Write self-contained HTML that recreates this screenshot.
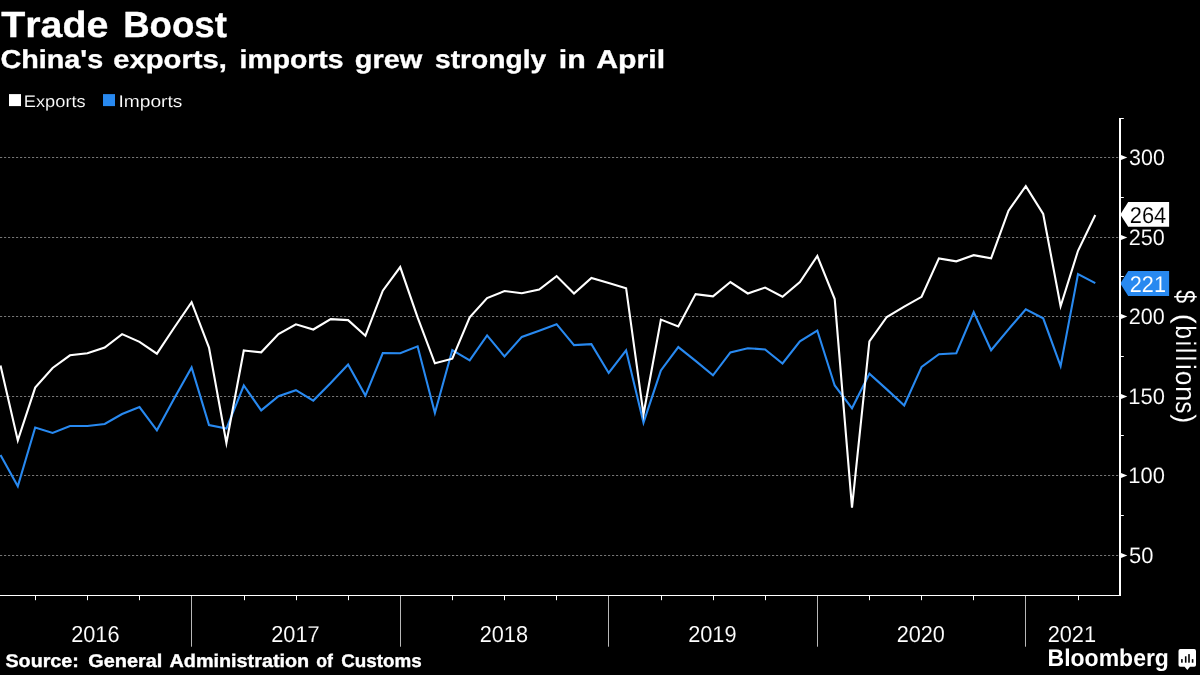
<!DOCTYPE html>
<html><head><meta charset="utf-8"><title>Trade Boost</title>
<style>
html,body{margin:0;padding:0;background:#000;}
body{width:1200px;height:675px;overflow:hidden;font-family:"Liberation Sans",sans-serif;}
svg{display:block;font-family:"Liberation Sans",sans-serif;font-kerning:none;text-rendering:geometricPrecision;}
</style></head><body>
<svg width="1200" height="675" viewBox="0 0 1200 675">
<rect width="1200" height="675" fill="#000"/>
<defs><filter id="idf" x="0" y="0" width="1200" height="675" filterUnits="userSpaceOnUse" color-interpolation-filters="sRGB"><feOffset dx="0" dy="0"/></filter></defs>
<g filter="url(#idf)">
<text x="1.16" y="36.6" font-size="36.3" font-weight="bold" stroke="#fff" stroke-width="0.35" fill="#fff" textLength="107.19" lengthAdjust="spacingAndGlyphs">Trade</text>
<text x="123.15" y="36.6" font-size="36.3" font-weight="bold" stroke="#fff" stroke-width="0.35" fill="#fff" textLength="103.70" lengthAdjust="spacingAndGlyphs">Boost</text>
<text x="0.42" y="67.9" font-size="25.8" font-weight="bold" stroke="#fff" stroke-width="0.35" fill="#fff" textLength="102.76" lengthAdjust="spacingAndGlyphs">China's</text>
<text x="113.26" y="67.9" font-size="25.8" font-weight="bold" stroke="#fff" stroke-width="0.35" fill="#fff" textLength="113.70" lengthAdjust="spacingAndGlyphs">exports,</text>
<text x="239.62" y="67.9" font-size="25.8" font-weight="bold" stroke="#fff" stroke-width="0.35" fill="#fff" textLength="103.94" lengthAdjust="spacingAndGlyphs">imports</text>
<text x="354.81" y="67.9" font-size="25.8" font-weight="bold" stroke="#fff" stroke-width="0.35" fill="#fff" textLength="67.53" lengthAdjust="spacingAndGlyphs">grew</text>
<text x="435.01" y="67.9" font-size="25.8" font-weight="bold" stroke="#fff" stroke-width="0.35" fill="#fff" textLength="111.14" lengthAdjust="spacingAndGlyphs">strongly</text>
<text x="558.88" y="67.9" font-size="25.8" font-weight="bold" stroke="#fff" stroke-width="0.35" fill="#fff" textLength="27.01" lengthAdjust="spacingAndGlyphs">in</text>
<text x="596.25" y="67.9" font-size="25.8" font-weight="bold" stroke="#fff" stroke-width="0.35" fill="#fff" textLength="68.89" lengthAdjust="spacingAndGlyphs">April</text>
<rect x="9" y="94.1" width="12" height="12" fill="#fff"/>
<text x="23.80" y="106.6" font-size="16.8" stroke="#000" stroke-width="0.1" fill="#fff" textLength="61.86" lengthAdjust="spacingAndGlyphs">Exports</text>
<text x="118.53" y="106.6" font-size="16.8" stroke="#000" stroke-width="0.1" fill="#fff" textLength="63.86" lengthAdjust="spacingAndGlyphs">Imports</text>
<rect x="103" y="94.1" width="12" height="12" fill="#2889f0"/>
<line x1="0" y1="157.5" x2="1119.0" y2="157.5" stroke="#747474" stroke-width="1" stroke-dasharray="2.2,1.8"/>
<line x1="0" y1="237.5" x2="1119.0" y2="237.5" stroke="#747474" stroke-width="1" stroke-dasharray="2.2,1.8"/>
<line x1="0" y1="316.5" x2="1119.0" y2="316.5" stroke="#747474" stroke-width="1" stroke-dasharray="2.2,1.8"/>
<line x1="0" y1="396.5" x2="1119.0" y2="396.5" stroke="#747474" stroke-width="1" stroke-dasharray="2.2,1.8"/>
<line x1="0" y1="475.5" x2="1119.0" y2="475.5" stroke="#747474" stroke-width="1" stroke-dasharray="2.2,1.8"/>
<line x1="0" y1="555.5" x2="1119.0" y2="555.5" stroke="#747474" stroke-width="1" stroke-dasharray="2.2,1.8"/>
<path d="M0.5,455.0 L17.8,486.2 L35.2,427.5 L52.6,432.9 L70.0,426.0 L87.4,426.0 L104.7,424.0 L122.1,414.0 L139.5,407.1 L156.9,430.3 L174.3,398.2 L191.6,367.4 L209.0,425.0 L226.4,428.6 L243.8,385.5 L261.2,410.4 L278.5,396.3 L295.9,390.2 L313.3,400.6 L330.7,383.0 L348.1,364.6 L365.4,395.6 L382.8,353.0 L400.2,353.2 L417.6,346.3 L434.9,413.0 L452.3,350.0 L469.7,360.4 L487.1,335.4 L504.5,356.5 L521.8,336.9 L539.2,330.7 L556.6,324.2 L574.0,345.1 L591.4,344.2 L608.7,373.0 L626.1,350.3 L643.5,422.7 L660.9,370.4 L678.3,347.1 L695.6,360.9 L713.0,375.3 L730.4,352.4 L747.8,348.2 L765.1,349.5 L782.5,363.5 L799.9,341.4 L817.3,330.5 L834.7,385.5 L852.0,408.3 L869.4,373.8 L886.8,389.4 L904.2,405.5 L921.6,366.9 L938.9,354.2 L956.3,353.2 L973.7,312.1 L991.1,350.2 L1008.5,329.4 L1025.8,309.2 L1043.2,318.3 L1060.6,366.1 L1078.0,274.1 L1095.3,283.1" fill="none" stroke="#2889f0" stroke-width="2.1" stroke-linejoin="miter" stroke-miterlimit="8"/>
<path d="M0.5,365.4 L17.8,440.4 L35.2,387.6 L52.6,368.0 L70.0,355.3 L87.4,353.3 L104.7,347.5 L122.1,334.1 L139.5,341.9 L156.9,353.7 L174.3,327.5 L191.6,302.2 L209.0,347.5 L226.4,443.0 L243.8,350.5 L261.2,352.3 L278.5,334.1 L295.9,324.3 L313.3,329.5 L330.7,319.1 L348.1,320.1 L365.4,335.7 L382.8,290.7 L400.2,267.1 L417.6,317.4 L434.9,363.3 L452.3,358.7 L469.7,317.4 L487.1,298.1 L504.5,291.0 L521.8,293.2 L539.2,289.6 L556.6,276.1 L574.0,293.6 L591.4,278.0 L608.7,283.0 L626.1,288.2 L643.5,414.3 L660.9,319.6 L678.3,326.4 L695.6,294.1 L713.0,296.4 L730.4,282.0 L747.8,293.5 L765.1,287.6 L782.5,296.7 L799.9,282.0 L817.3,256.0 L834.7,299.1 L852.0,507.6 L869.4,341.5 L886.8,317.0 L904.2,306.6 L921.6,296.8 L938.9,258.4 L956.3,261.3 L973.7,255.2 L991.1,258.4 L1008.5,210.7 L1025.8,186.2 L1043.2,214.0 L1060.6,306.2 L1078.0,250.8 L1095.3,215.0" fill="none" stroke="#fff" stroke-width="2.1" stroke-linejoin="miter" stroke-miterlimit="8"/>
<rect x="0" y="595" width="1121.0" height="1" fill="#fff"/>
<path d="M1121.0,154.9 L1127.3,157.5 L1121.0,160.1 Z" fill="#fff"/>
<text x="1129.08" y="165.2" font-size="22.4" stroke="#000" stroke-width="0.1" fill="#fff" textLength="35.75" lengthAdjust="spacingAndGlyphs">300</text>
<path d="M1121.0,234.9 L1127.3,237.5 L1121.0,240.1 Z" fill="#fff"/>
<text x="1128.81" y="245.2" font-size="22.4" stroke="#000" stroke-width="0.1" fill="#fff" textLength="36.03" lengthAdjust="spacingAndGlyphs">250</text>
<path d="M1121.0,313.9 L1127.3,316.5 L1121.0,319.1 Z" fill="#fff"/>
<text x="1128.81" y="324.2" font-size="22.4" stroke="#000" stroke-width="0.1" fill="#fff" textLength="36.03" lengthAdjust="spacingAndGlyphs">200</text>
<path d="M1121.0,393.9 L1127.3,396.5 L1121.0,399.1 Z" fill="#fff"/>
<text x="1128.23" y="404.2" font-size="22.4" stroke="#000" stroke-width="0.1" fill="#fff" textLength="36.63" lengthAdjust="spacingAndGlyphs">150</text>
<path d="M1121.0,472.9 L1127.3,475.5 L1121.0,478.1 Z" fill="#fff"/>
<text x="1128.23" y="483.2" font-size="22.4" stroke="#000" stroke-width="0.1" fill="#fff" textLength="36.63" lengthAdjust="spacingAndGlyphs">100</text>
<path d="M1121.0,552.9 L1127.3,555.5 L1121.0,558.1 Z" fill="#fff"/>
<text x="1129.02" y="563.2" font-size="22.4" stroke="#000" stroke-width="0.1" fill="#fff" textLength="24.44" lengthAdjust="spacingAndGlyphs">50</text>
<rect x="1121.0" y="118.0" width="2.8" height="1" fill="#fff"/>
<rect x="1121.0" y="197.0" width="2.8" height="1" fill="#fff"/>
<rect x="1121.0" y="276.0" width="2.8" height="1" fill="#fff"/>
<rect x="1121.0" y="356.0" width="2.8" height="1" fill="#fff"/>
<rect x="1121.0" y="435.0" width="2.8" height="1" fill="#fff"/>
<rect x="1121.0" y="515.0" width="2.8" height="1" fill="#fff"/>
<path d="M1120.3,214.4 L1128.2,202.0 L1169.1,202.0 L1169.1,226.8 L1128.2,226.8 Z" fill="#fff"/>
<text x="1129.80" y="222.9" font-size="22.6" stroke="#fff" stroke-width="0.1" fill="#000" textLength="36.44" lengthAdjust="spacingAndGlyphs">264</text>
<path d="M1120.3,283.5 L1128.2,271.1 L1169.1,271.1 L1169.1,295.9 L1128.2,295.9 Z" fill="#2889f0"/>
<text x="1129.81" y="292.0" font-size="22.6" stroke="#2889f0" stroke-width="0.1" fill="#fff" textLength="36.15" lengthAdjust="spacingAndGlyphs">221</text>
<rect x="1119.0" y="118" width="2" height="478" fill="#fff"/>
<text transform="translate(1175.9,289.94) rotate(90) scale(0.850,1)" font-size="28.0" fill="#fff" stroke="#000" stroke-width="0.1">$</text>
<text transform="translate(1175.9,313.59) rotate(90) scale(1.100,1)" font-size="28.0" fill="#fff" stroke="#000" stroke-width="0.1">(</text>
<text transform="translate(1175.9,325.19) rotate(90) scale(0.889,1)" font-size="28.0" fill="#fff" stroke="#000" stroke-width="0.1">b</text>
<text transform="translate(1175.9,340.33) rotate(90) scale(1.000,1)" font-size="28.0" fill="#fff" stroke="#000" stroke-width="0.1">i</text>
<text transform="translate(1175.9,347.51) rotate(90) scale(1.000,1)" font-size="28.0" fill="#fff" stroke="#000" stroke-width="0.1">l</text>
<text transform="translate(1175.9,355.21) rotate(90) scale(1.000,1)" font-size="28.0" fill="#fff" stroke="#000" stroke-width="0.1">l</text>
<text transform="translate(1175.9,363.83) rotate(90) scale(1.000,1)" font-size="28.0" fill="#fff" stroke="#000" stroke-width="0.1">i</text>
<text transform="translate(1175.9,370.79) rotate(90) scale(0.945,1)" font-size="28.0" fill="#fff" stroke="#000" stroke-width="0.1">o</text>
<text transform="translate(1175.9,386.06) rotate(90) scale(0.992,1)" font-size="28.0" fill="#fff" stroke="#000" stroke-width="0.1">n</text>
<text transform="translate(1175.9,401.32) rotate(90) scale(0.876,1)" font-size="28.0" fill="#fff" stroke="#000" stroke-width="0.1">s</text>
<text transform="translate(1175.9,414.34) rotate(90) scale(0.956,1)" font-size="28.0" fill="#fff" stroke="#000" stroke-width="0.1">)</text>
<rect x="35" y="596" width="1" height="4.2" fill="#fff"/>
<rect x="87" y="596" width="1" height="4.2" fill="#fff"/>
<rect x="139" y="596" width="1" height="4.2" fill="#fff"/>
<rect x="244" y="596" width="1" height="4.2" fill="#fff"/>
<rect x="296" y="596" width="1" height="4.2" fill="#fff"/>
<rect x="348" y="596" width="1" height="4.2" fill="#fff"/>
<rect x="452" y="596" width="1" height="4.2" fill="#fff"/>
<rect x="504" y="596" width="1" height="4.2" fill="#fff"/>
<rect x="556" y="596" width="1" height="4.2" fill="#fff"/>
<rect x="661" y="596" width="1" height="4.2" fill="#fff"/>
<rect x="713" y="596" width="1" height="4.2" fill="#fff"/>
<rect x="765" y="596" width="1" height="4.2" fill="#fff"/>
<rect x="869" y="596" width="1" height="4.2" fill="#fff"/>
<rect x="921" y="596" width="1" height="4.2" fill="#fff"/>
<rect x="973" y="596" width="1" height="4.2" fill="#fff"/>
<rect x="1078" y="596" width="1" height="4.2" fill="#fff"/>
<rect x="191" y="596" width="1" height="50.7" fill="#fff" fill-opacity="0.72"/>
<rect x="400" y="596" width="1" height="50.7" fill="#fff" fill-opacity="0.72"/>
<rect x="608" y="596" width="1" height="50.7" fill="#fff" fill-opacity="0.72"/>
<rect x="817" y="596" width="1" height="50.7" fill="#fff" fill-opacity="0.72"/>
<rect x="1025" y="596" width="1" height="50.7" fill="#fff" fill-opacity="0.72"/>
<text x="71.16" y="641.7" font-size="23.0" stroke="#000" stroke-width="0.1" fill="#fff" textLength="48.35" lengthAdjust="spacingAndGlyphs">2016</text>
<text x="271.15" y="641.7" font-size="23.0" stroke="#000" stroke-width="0.1" fill="#fff" textLength="48.49" lengthAdjust="spacingAndGlyphs">2017</text>
<text x="479.66" y="641.7" font-size="23.0" stroke="#000" stroke-width="0.1" fill="#fff" textLength="48.34" lengthAdjust="spacingAndGlyphs">2018</text>
<text x="688.16" y="641.7" font-size="23.0" stroke="#000" stroke-width="0.1" fill="#fff" textLength="48.43" lengthAdjust="spacingAndGlyphs">2019</text>
<text x="896.66" y="641.7" font-size="23.0" stroke="#000" stroke-width="0.1" fill="#fff" textLength="48.24" lengthAdjust="spacingAndGlyphs">2020</text>
<text x="1047.65" y="641.7" font-size="23.0" stroke="#000" stroke-width="0.1" fill="#fff" textLength="48.46" lengthAdjust="spacingAndGlyphs">2021</text>
<text x="5.43" y="667.3" font-size="18.4" font-weight="bold" stroke="#fff" stroke-width="0.35" fill="#fff" textLength="73.47" lengthAdjust="spacingAndGlyphs">Source:</text>
<text x="88.18" y="667.3" font-size="18.4" font-weight="bold" stroke="#fff" stroke-width="0.35" fill="#fff" textLength="74.23" lengthAdjust="spacingAndGlyphs">General</text>
<text x="169.51" y="667.3" font-size="18.4" font-weight="bold" stroke="#fff" stroke-width="0.35" fill="#fff" textLength="139.72" lengthAdjust="spacingAndGlyphs">Administration</text>
<text x="316.31" y="667.3" font-size="18.4" font-weight="bold" stroke="#fff" stroke-width="0.35" fill="#fff" textLength="16.65" lengthAdjust="spacingAndGlyphs">of</text>
<text x="341.23" y="667.3" font-size="18.4" font-weight="bold" stroke="#fff" stroke-width="0.35" fill="#fff" textLength="80.54" lengthAdjust="spacingAndGlyphs">Customs</text>
<text x="1047.56" y="666.2" font-size="24.1" font-weight="bold" fill="#fff" textLength="121.38" lengthAdjust="spacingAndGlyphs">Bloomberg</text>
<path d="M1180.3,649.1 h13.9 a1.8,1.8 0 0 1 1.8,1.8 v14 a1.8,1.8 0 0 1 -1.8,1.8 h-4.2 l-2.7,3.3 l-2.7,-3.3 h-4.3 a1.8,1.8 0 0 1 -1.8,-1.8 v-14 a1.8,1.8 0 0 1 1.8,-1.8 Z" fill="#fff"/>
<rect x="1181.1" y="659.1" width="1.6" height="3.6" fill="#000"/>
<rect x="1184.9" y="656.3" width="1.6" height="6.4" fill="#000"/>
<rect x="1188.2" y="654.1" width="1.6" height="8.6" fill="#000"/>
<rect x="1191.8" y="659.1" width="1.6" height="3.6" fill="#000"/>
</g></svg></body></html>
